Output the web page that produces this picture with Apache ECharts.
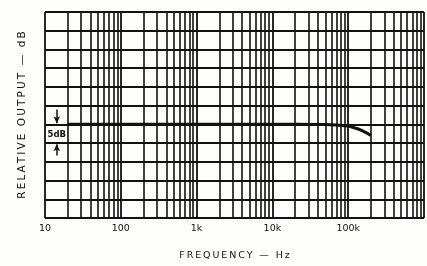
<!DOCTYPE html>
<html>
<head>
<meta charset="utf-8">
<script src="https://cdn.jsdelivr.net/npm/echarts@6/dist/echarts.min.js"></script>
<style>
html,body{margin:0;padding:0;background:#fdfdf9;}
#c{width:427px;height:266px;}
</style>
</head>
<body>
<div id="c"></div>
<script>
// Data
const freqHz = [20, 50, 100, 200, 500, 1000, 2000, 5000, 10000, 20000, 50000, 70000, 100000, 120000, 150000, 200000];
const outputDb = [0, 0, 0, 0, 0, 0, 0, 0, 0, 0, -0.05, -0.2, -0.45, -0.9, -1.6, -3.0];
const xTickLabels = {10: '10', 100: '100', 1000: '1k', 10000: '10k', 100000: '100k', 1000000: ''};
const minorGrid = [20,30,40,50,60,70,80,90, 200,300,400,500,600,700,800,900,
  2000,3000,4000,5000,6000,7000,8000,9000, 20000,30000,40000,50000,60000,70000,80000,90000,
  200000,300000,400000,500000,600000,700000,800000,900000];
const xName = 'FREQUENCY — Hz';
const yName = 'RELATIVE OUTPUT — dB';
const scaleLabel = '5dB';
const scaleArrowX = 14.3;

const ink = '#111';
const spaced = s => s.split('').join('\u2009');
const chart = echarts.init(document.getElementById('c'), null, {renderer: 'canvas'});
chart.setOption({
  backgroundColor: '#fdfdf9',
  animation: false,
  grid: {left: 45, right: 3, top: 12, bottom: 45},
  xAxis: {
    type: 'log', logBase: 10, min: 10, max: 1000000,
    name: spaced(xName), nameLocation: 'middle', nameGap: 33,
    nameTextStyle: {color: ink, fontSize: 9.5, fontFamily: 'DejaVu Sans'},
    axisLine: {show: false},
    axisTick: {show: false},
    axisLabel: {color: ink, fontSize: 9.5, fontFamily: 'DejaVu Sans', margin: 6,
      formatter: v => xTickLabels[Math.round(v)] !== undefined ? xTickLabels[Math.round(v)] : ''},
    splitLine: {show: true, lineStyle: {color: ink, width: 1.8}}
  },
  yAxis: {
    type: 'value', min: -25, max: 30, interval: 5,
    name: spaced(yName), nameLocation: 'middle', nameGap: 17,
    nameTextStyle: {color: ink, fontSize: 10.5, fontFamily: 'DejaVu Sans'},
    axisLine: {show: false}, axisTick: {show: false}, axisLabel: {show: false},
    splitLine: {show: true, lineStyle: {color: ink, width: 1.8}}
  },
  series: [
    {
      type: 'line', data: [], silent: true,
      markLine: {
        silent: true, symbol: 'none', animation: false,
        label: {show: false},
        lineStyle: {color: ink, width: 1.6, type: 'solid'},
        data: minorGrid.map(v => ({xAxis: v}))
      }
    },
    {
      type: 'line',
      data: freqHz.map((f, i) => [f, outputDb[i]]),
      showSymbol: false, smooth: 0.3,
      lineStyle: {color: ink, width: 3},
      silent: true,
      markLine: {
        silent: true, animation: false,
        symbol: ['none', 'arrow'], symbolSize: [5, 7],
        label: {show: false},
        lineStyle: {color: ink, width: 1.5, type: 'solid'},
        data: [
          [{coord: [scaleArrowX, 4.0]}, {coord: [scaleArrowX, 0.3]}],
          [{coord: [scaleArrowX, -8.3]}, {coord: [scaleArrowX, -5.3]}]
        ]
      },
      markPoint: {
        silent: true, symbol: 'rect', symbolSize: [20, 10],
        itemStyle: {color: '#fdfdf9'},
        label: {show: true, formatter: scaleLabel, color: ink, fontSize: 8.5, fontWeight: 'bold', fontFamily: 'DejaVu Sans'},
        data: [{coord: [scaleArrowX, -2.7]}]
      }
    }
  ]
});
</script>
</body>
</html>
